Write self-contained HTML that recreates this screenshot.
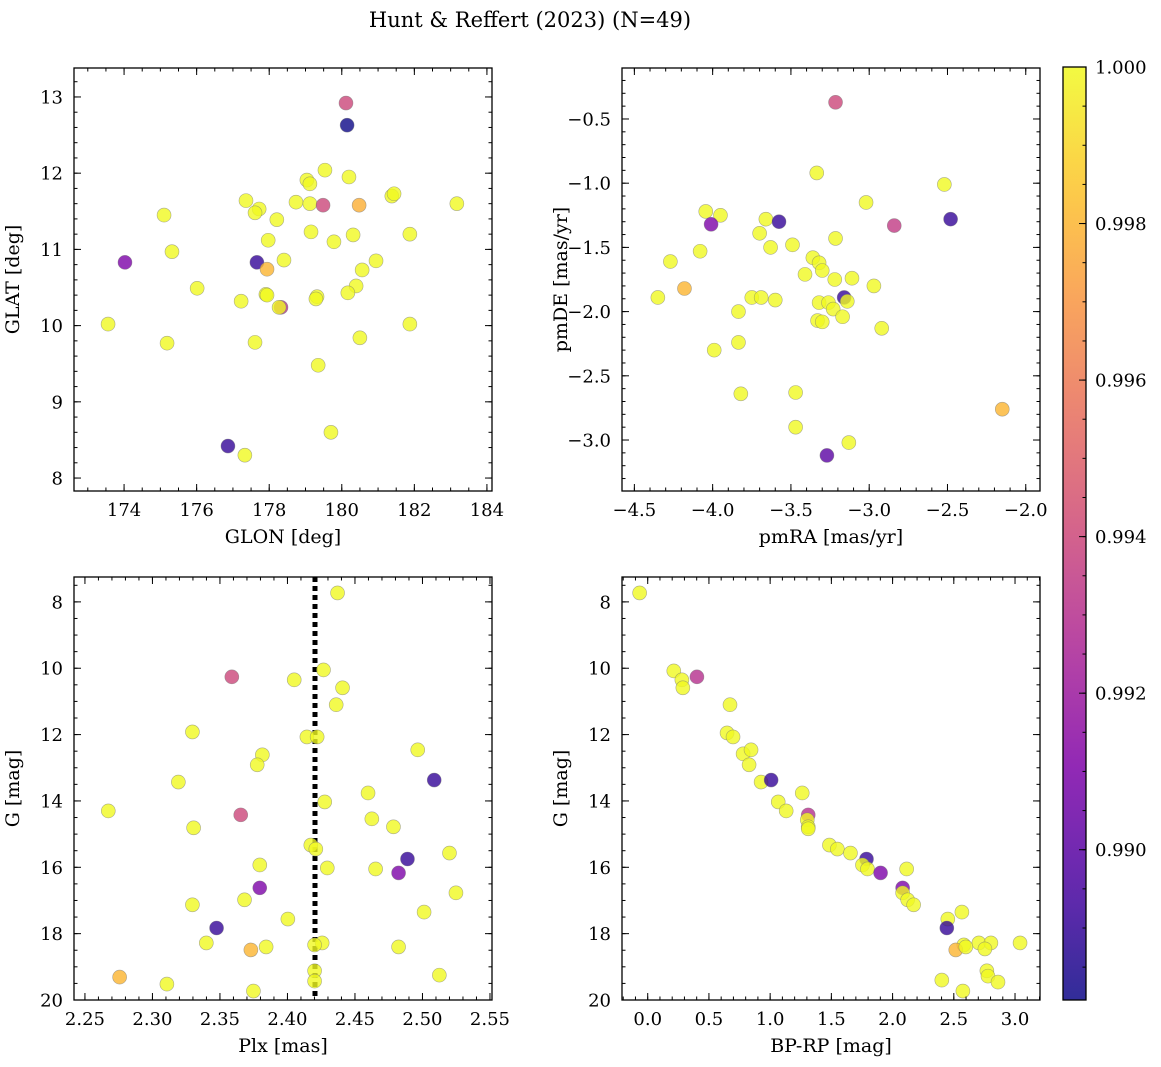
<!DOCTYPE html>
<html><head><meta charset="utf-8">
<style>
html,body{margin:0;padding:0;background:#fff;}
svg{display:block;font-family:"DejaVu Serif","Liberation Serif",serif;}
</style></head>
<body>
<svg id="fig" width="1161" height="1067" viewBox="0 0 1161 1067" xmlns="http://www.w3.org/2000/svg">
<text x="530" y="27" text-anchor="middle" font-size="21">Hunt &amp; Reffert (2023) (N=49)</text>
</svg>
<script>
// ---- Data ----
const glon = [180.116,180.147,179.536,179.038,179.121,180.198,177.36,177.723,177.609,178.738,179.121,179.484,180.478,181.379,181.441,183.171,175.102,178.21,179.152,180.312,181.876,177.972,179.784,175.32,174.025,177.661,178.407,177.94,180.944,180.561,176.014,177.909,177.94,180.395,180.167,179.318,179.287,177.226,178.324,178.272,173.559,181.876,180.499,175.185,177.609,179.349,179.701,176.863,177.329];
const glat = [12.92,12.63,12.04,11.91,11.86,11.95,11.64,11.53,11.48,11.62,11.60,11.58,11.58,11.70,11.73,11.60,11.45,11.39,11.23,11.19,11.20,11.12,11.10,10.97,10.83,10.83,10.86,10.74,10.85,10.73,10.49,10.41,10.40,10.52,10.43,10.38,10.35,10.32,10.24,10.24,10.02,10.02,9.84,9.77,9.78,9.48,8.60,8.42,8.30];
const probTL = [0.994,0.988,1,1,1,1,1,1,1,1,1,0.994,0.9978,1,1,1,1,1,1,1,1,1,1,1,0.991,0.989,1,0.998,1,1,1,1,1,1,1,1,1,1,0.993,1,1,1,1,1,1,1,1,0.989,1];

const pmra = [-3.215,-3.335,-2.52,-3.02,-4.044,-3.95,-3.66,-3.576,-2.48,-2.84,-4.01,-3.70,-3.215,-4.08,-3.63,-3.49,-4.27,-3.36,-3.32,-3.30,-3.41,-3.22,-3.11,-4.18,-2.97,-4.35,-3.75,-3.69,-3.60,-3.16,-3.32,-3.14,-3.26,-3.23,-3.835,-3.17,-3.33,-3.30,-2.92,-3.835,-3.99,-3.82,-3.47,-3.47,-3.13,-3.27,-2.15];
const pmde = [-0.37,-0.92,-1.01,-1.15,-1.22,-1.25,-1.28,-1.30,-1.28,-1.33,-1.32,-1.39,-1.43,-1.53,-1.50,-1.48,-1.61,-1.58,-1.62,-1.68,-1.71,-1.75,-1.74,-1.82,-1.80,-1.89,-1.89,-1.89,-1.91,-1.89,-1.93,-1.92,-1.93,-1.98,-2.00,-2.04,-2.07,-2.08,-2.13,-2.24,-2.30,-2.64,-2.63,-2.90,-3.02,-3.12,-2.76];
const probTR = [0.994,1,1,1,1,1,1,0.989,0.989,0.9935,0.991,1,1,1,1,1,1,1,1,1,1,1,1,0.998,1,1,1,1,1,0.989,1,1,1,1,1,1,1,1,1,1,1,1,1,1,1,0.990,0.998];

const plx = [2.4371,2.3588,2.405,2.4267,2.4408,2.4361,2.3296,2.4144,2.422,2.3814,2.4965,2.3776,2.5087,2.3192,2.4597,2.2673,2.3654,2.4625,2.4276,2.3305,2.4785,2.4173,2.421,2.52,2.4889,2.3795,2.4295,2.4653,2.4823,2.3795,2.5248,2.3682,2.3296,2.5012,2.4003,2.3475,2.3399,2.3842,2.4257,2.4201,2.4823,2.3729,2.2757,2.4201,2.4201,2.5125,2.3107,2.3748];
const gmagBL = [7.73,10.26,10.35,10.05,10.59,11.1,11.92,12.07,12.07,12.61,12.46,12.91,13.37,13.43,13.76,14.30,14.42,14.54,14.03,14.81,14.78,15.33,15.45,15.57,15.75,15.93,16.02,16.05,16.17,16.62,16.77,16.98,17.13,17.35,17.56,17.83,18.28,18.40,18.28,18.34,18.40,18.49,19.31,19.12,19.43,19.25,19.52,19.73];
const probBL = [1,0.994,1,1,1,1,1,1,1,1,1,1,0.989,1,1,1,0.994,1,1,1,1,1,1,1,0.989,1,1,1,0.991,0.991,1,1,1,1,1,0.989,1,1,1,1,1,0.998,0.998,1,1,1,1,1];
const plxMedian = [2.4204];

const bprp = [-0.066,0.213,0.279,0.287,0.402,0.672,0.648,0.697,0.779,0.844,0.828,0.926,1.008,1.262,1.066,1.131,1.311,1.303,1.311,1.311,1.484,1.549,1.656,1.787,1.754,1.795,1.902,2.115,2.082,2.082,2.123,2.172,2.566,2.451,2.443,2.582,2.516,2.705,2.803,3.041,2.754,2.598,2.770,2.779,2.861,2.402,2.574];
const gmagBR = [7.73,10.08,10.35,10.59,10.26,11.1,11.95,12.07,12.58,12.46,12.91,13.43,13.37,13.76,14.03,14.30,14.42,14.57,14.78,14.84,15.33,15.45,15.57,15.75,15.93,16.05,16.17,16.05,16.62,16.77,16.98,17.13,17.35,17.56,17.83,18.34,18.49,18.28,18.28,18.28,18.46,18.40,19.12,19.28,19.46,19.40,19.73];
const probBR = [1,1,1,1,0.993,1,1,1,1,1,1,1,0.989,1,1,1,0.993,1,1,1,1,1,1,0.989,1,1,0.991,1,0.991,1,1,1,1,1,0.989,1,0.998,1,1,1,1,1,1,1,1,1,1];

const cbTicks = [0.990,0.992,0.994,0.996,0.998,1.000];
const cbRange = [0.98808,1.0];

// ---- helpers ----
const NS="http://www.w3.org/2000/svg";
const svg=document.getElementById('fig');
function mk(tag,attrs,parent){const e=document.createElementNS(NS,tag);for(const k in attrs)e.setAttribute(k,attrs[k]);(parent||svg).appendChild(e);return e;}
const stops=[[0,[13,8,135]],[0.125,[75,3,161]],[0.25,[126,3,168]],[0.375,[170,35,149]],[0.5,[204,71,120]],[0.625,[230,108,92]],[0.75,[248,149,64]],[0.875,[253,196,39]],[1,[240,249,33]]];
function plasma(t){t=Math.max(0,Math.min(1,t));for(let i=1;i<stops.length;i++){if(t<=stops[i][0]){const a=stops[i-1],b=stops[i];const f=(t-a[0])/(b[0]-a[0]);const c=a[1].map((v,j)=>Math.round(v+(b[1][j]-v)*f));return `rgb(${c[0]},${c[1]},${c[2]})`;}}return 'rgb(240,249,33)';}
function cnorm(p){return (p-cbRange[0])/(cbRange[1]-cbRange[0]);}

function panel(o){
  const g=mk('g',{});
  
  
  const L=o.box[0],T=o.box[1],R=o.box[2],B=o.box[3];
  const sx=v=>L+(v-o.xr[0])/(o.xr[1]-o.xr[0])*(R-L);
  const sy=o.invert? (v=>T+(v-o.yr[0])/(o.yr[1]-o.yr[0])*(B-T)) : (v=>B-(v-o.yr[0])/(o.yr[1]-o.yr[0])*(B-T));
  const clip='clip-'+o.name;
  const cp=mk('clipPath',{id:clip},g);mk('rect',{x:L,y:T,width:R-L,height:B-T},cp);
  const pts=mk('g',{'clip-path':`url(#${clip})`},g);
  
  
  if(o.vline){const l=mk('line',{x1:sx(o.vline),x2:sx(o.vline),y1:T,y2:B,stroke:'#000','stroke-width':5,'stroke-dasharray':'5,4'},pts);
    
    }
  for(let i=0;i<o.x.length;i++){
    const c=mk('circle',{cx:sx(o.x[i]),cy:sy(o.y[i]),r:7,fill:plasma(cnorm(o.c[i])),'fill-opacity':0.8,stroke:'#777','stroke-opacity':0.6,'stroke-width':0.6},pts);
    
    
  }
  mk('rect',{x:L,y:T,width:R-L,height:B-T,fill:'none',stroke:'#000','stroke-width':1.3},g);
  function ticksX(step,len,labels){
    const s=Math.ceil((o.xr[0]-1e-9)/step);
    for(let k=s;k*step<=o.xr[1]+1e-9;k++){const v=k*step,x=sx(v);
      mk('line',{x1:x,x2:x,y1:B,y2:B-len,stroke:'#000','stroke-width':1},g);
      mk('line',{x1:x,x2:x,y1:T,y2:T+len,stroke:'#000','stroke-width':1},g);
      if(labels){const t=mk('text',{x:x,y:B+25,'text-anchor':'middle','font-size':18},g);t.textContent=o.fx(v);
        
        }
    }}
  function ticksY(step,len,labels){
    const s=Math.ceil((o.yr[0]-1e-9)/step);
    for(let k=s;k*step<=o.yr[1]+1e-9;k++){const v=k*step,y=sy(v);
      mk('line',{x1:L,x2:L+len,y1:y,y2:y,stroke:'#000','stroke-width':1},g);
      mk('line',{x1:R,x2:R-len,y1:y,y2:y,stroke:'#000','stroke-width':1},g);
      if(labels){const t=mk('text',{x:L-11,y:y+6.5,'text-anchor':'end','font-size':18},g);t.textContent=o.fy(v);
        
        }
    }}
  ticksX(o.xmin,3.5,false);ticksX(o.xmaj,7,true);
  ticksY(o.ymin,3.5,false);ticksY(o.ymaj,7,true);
  const xl=mk('text',{x:(L+R)/2,y:B+52,'text-anchor':'middle','font-size':19},g);xl.textContent=o.xlabel;
  
  
  const yx=L-55,yy=(T+B)/2;
  const yl=mk('text',{x:yx,y:yy,'text-anchor':'middle','font-size':19,transform:`rotate(-90 ${yx} ${yy})`},g);yl.textContent=o.ylabel;
  
  
}
const minus=s=>s.replace('-','\u2212');
panel({name:'glon-glat-panel',box:[74,68,492,491],xr:[172.62,184.14],yr:[7.83,13.38],x:glon,y:glat,c:probTL,xmaj:2,xmin:0.5,ymaj:1,ymin:0.2,fx:v=>v.toFixed(0),fy:v=>v.toFixed(0),xlabel:'GLON [deg]',ylabel:'GLAT [deg]'});
panel({name:'pm-panel',box:[622,68,1040,491],xr:[-4.579,-1.909],yr:[-3.397,-0.103],x:pmra,y:pmde,c:probTR,xmaj:0.5,xmin:0.1,ymaj:0.5,ymin:0.1,fx:v=>minus(v.toFixed(1)),fy:v=>minus(v.toFixed(1)),xlabel:'pmRA [mas/yr]',ylabel:'pmDE [mas/yr]'});
panel({name:'plx-g-panel',box:[74,577,492,1000],xr:[2.2419,2.5515],yr:[7.25,20],invert:true,x:plx,y:gmagBL,c:probBL,vline:plxMedian[0],xmaj:0.05,xmin:0.01,ymaj:2,ymin:0.5,fx:v=>v.toFixed(2),fy:v=>v.toFixed(0),xlabel:'Plx [mas]',ylabel:'G [mag]'});
panel({name:'cmd-panel',box:[622,577,1040,1000],xr:[-0.21,3.204],yr:[7.25,20],invert:true,x:bprp,y:gmagBR,c:probBR,xmaj:0.5,xmin:0.1,ymaj:2,ymin:0.5,fx:v=>minus(v.toFixed(1)),fy:v=>v.toFixed(0),xlabel:'BP-RP [mag]',ylabel:'G [mag]'});

// ---- colorbar ----
(function(){
  const L=1063,R=1086,T=67,B=1000;
  const g=mk('g',{});
  
  
  const defs=mk('defs',{},g);
  const lg=mk('linearGradient',{id:'cbg',x1:0,y1:1,x2:0,y2:0},defs);
  for(let i=0;i<=20;i++){mk('stop',{offset:i/20,'stop-color':plasma(i/20),'stop-opacity':0.85},lg);}
  mk('rect',{x:L,y:T,width:R-L,height:B-T,fill:'url(#cbg)'},g);
  mk('rect',{x:L,y:T,width:R-L,height:B-T,fill:'none',stroke:'#000','stroke-width':1.3},g);
  const sy=v=>B-(v-cbRange[0])/(cbRange[1]-cbRange[0])*(B-T);
  for(let v=0.9885;v<=1.00001;v+=0.0005){const y=sy(v);mk('line',{x1:R,x2:R-3.5,y1:y,y2:y,stroke:'#000'},g);}
  cbTicks.forEach(v=>{const y=sy(v);mk('line',{x1:R,x2:R-7,y1:y,y2:y,stroke:'#000'},g);
    const t=mk('text',{x:R+9,y:y+6.5,'font-size':18},g);t.textContent=v.toFixed(3);
    
    });
})();
</script>
</body></html>
